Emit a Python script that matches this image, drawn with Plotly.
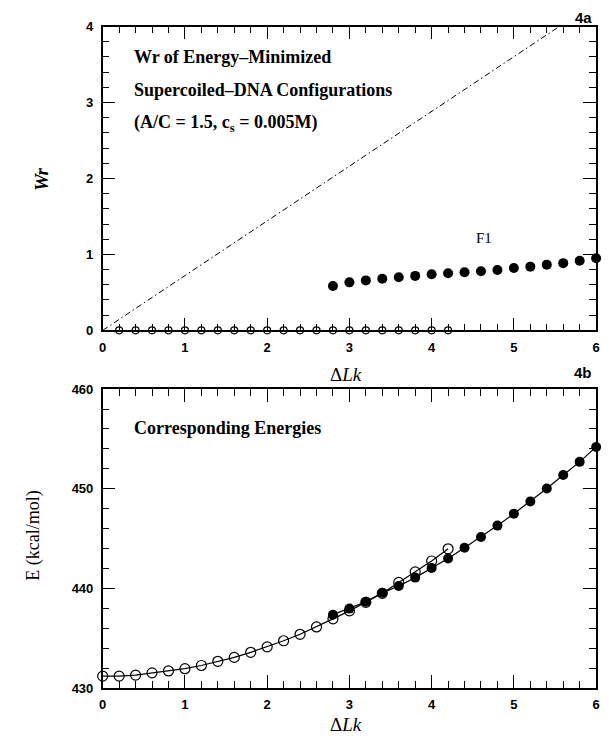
import plotly.graph_objects as go

# ---- data ----
# Wr panel: relaxed (open) configurations sit at Wr = 0
wr_open_lk = [0.2, 0.4, 0.6, 0.8, 1.0, 1.2, 1.4, 1.6, 1.8, 2.0, 2.2, 2.4, 2.6, 2.8,
              3.0, 3.2, 3.4, 3.6, 3.8, 4.0, 4.2]
wr_open = [0.0] * len(wr_open_lk)

# F1 branch (filled)
f1_lk = [2.8, 3.0, 3.2, 3.4, 3.6, 3.8, 4.0, 4.2, 4.4, 4.6, 4.8, 5.0, 5.2, 5.4, 5.6, 5.8, 6.0]
f1_wr = [0.585, 0.632, 0.658, 0.679, 0.700, 0.717, 0.739, 0.752, 0.765, 0.778, 0.795,
         0.820, 0.839, 0.865, 0.885, 0.916, 0.950]

# reference line (dash-dot)
ref_lk = [0.0, 5.55]
ref_wr = [0.0, 4.0]

# Energies
e_open_lk = [0.0, 0.2, 0.4, 0.6, 0.8, 1.0, 1.2, 1.4, 1.6, 1.8, 2.0, 2.2, 2.4, 2.6, 2.8,
             3.0, 3.2, 3.4, 3.6, 3.8, 4.0, 4.2]
e_open = [431.19, 431.19, 431.29, 431.52, 431.71, 431.94, 432.26, 432.68, 433.07, 433.58,
          434.13, 434.74, 435.39, 436.13, 436.94, 437.74, 438.60, 439.50, 440.60, 441.65,
          442.75, 443.97]
e_f1_lk = f1_lk
e_f1 = [437.36, 437.97, 438.65, 439.55, 440.24, 441.08, 442.04, 442.99, 444.07, 445.15,
        446.30, 447.50, 448.72, 450.03, 451.38, 452.70, 454.20]

x_ticks = [0, 1, 2, 3, 4, 5, 6]
wr_ticks = [0, 1, 2, 3, 4]
e_ticks = [430, 440, 450, 460]

W, H = 609, 744
def px_x(p):
    return p / W
def px_y(p):
    return 1 - p / H

SERIF = "Liberation Serif"
SANS = "Liberation Sans"

fig = go.Figure()

fig.add_trace(go.Scatter(x=ref_lk, y=ref_wr, mode="lines",
                         line=dict(color="black", width=1, dash="6px,3px,1.5px,3px"),
                         xaxis="x", yaxis="y", showlegend=False))
fig.add_trace(go.Scatter(x=wr_open_lk, y=wr_open, mode="markers", cliponaxis=False,
                         marker=dict(symbol="circle-open", size=7, color="black",
                                     line=dict(width=1.2)),
                         xaxis="x", yaxis="y", showlegend=False))
fig.add_trace(go.Scatter(x=f1_lk, y=f1_wr, mode="markers", cliponaxis=False,
                         marker=dict(symbol="circle", size=10, color="black"),
                         xaxis="x", yaxis="y", showlegend=False))

fig.add_trace(go.Scatter(x=e_open_lk, y=e_open, mode="lines+markers", cliponaxis=False,
                         line=dict(color="black", width=1.2),
                         marker=dict(symbol="circle-open", size=10, color="black",
                                     line=dict(width=1.2)),
                         xaxis="x2", yaxis="y2", showlegend=False))
fig.add_trace(go.Scatter(x=e_f1_lk, y=e_f1, mode="lines+markers", cliponaxis=False,
                         line=dict(color="black", width=1.2),
                         marker=dict(symbol="circle", size=10, color="black"),
                         xaxis="x2", yaxis="y2", showlegend=False))

tickfont = dict(family=SANS, size=13, color="black", weight="bold")

def xax(anchor):
    return dict(domain=[px_x(100), px_x(600)], anchor=anchor, range=[0, 6],
                tickvals=x_ticks, ticks="inside", ticklen=13, tickwidth=1.2,
                minor=dict(dtick=0.2, ticks="inside", ticklen=7, tickwidth=1.2,
                           tickcolor="black", showgrid=False),
                mirror="allticks", showline=True, linecolor="black", linewidth=1.5,
                showgrid=False, zeroline=False, tickfont=tickfont, tickcolor="black",
                ticklabelstandoff=4)

def yax(anchor, dom, rng, vals, minor_step):
    return dict(domain=dom, anchor=anchor, range=rng, tickvals=vals,
                ticks="inside", ticklen=13, tickwidth=1.2, tickcolor="black",
                minor=dict(dtick=minor_step, ticks="inside", ticklen=7, tickwidth=1.2,
                           tickcolor="black", showgrid=False),
                mirror="allticks", showline=True, linecolor="black", linewidth=1.5,
                showgrid=False, zeroline=False, tickfont=tickfont,
                ticklabelstandoff=5)

fig.update_layout(
    width=W, height=H, margin=dict(l=0, r=0, t=0, b=0),
    paper_bgcolor="white", plot_bgcolor="white", showlegend=False,
    xaxis=xax("y"),
    yaxis=yax("x", [px_y(330), px_y(20)], [0, 4], wr_ticks, 0.2),
    xaxis2=xax("y2"),
    yaxis2=yax("x2", [px_y(695), px_y(390)], [430, 460], e_ticks, 2),
)

ann = []
def text(x, y, s, size, family=SERIF, weight="normal", angle=0, xanchor="left"):
    ann.append(dict(x=px_x(x), y=px_y(y), xref="paper", yref="paper", text=s,
                    showarrow=False, xanchor=xanchor, yanchor="middle", textangle=angle,
                    font=dict(family=family, size=size, color="black", weight=weight)))

# panel headings
text(130, 51, "Wr of Energy–Minimized", 18, weight="bold")
text(130, 85, "Supercoiled–DNA Configurations", 18, weight="bold")
text(130, 119, "(A/C = 1.5, c<sub>s</sub> = 0.005M)", 18, weight="bold")
text(130, 430, "Corresponding Energies", 18, weight="bold")

# series label
text(486, 236, "F1", 15, xanchor="center")

# panel tags
text(598, 11, "4a", 15, family=SANS, weight="bold", xanchor="right")
text(598, 373, "4b", 15, family=SANS, weight="bold", xanchor="right")

# axis titles
text(347, 375, "Δ<i>Lk</i>", 19, xanchor="center")
text(347, 732, "Δ<i>Lk</i>", 19, xanchor="center")
text(38, 176, "<i>Wr</i>", 19, weight="bold", angle=-90, xanchor="center")
text(30, 540, "E (kcal/mol)", 18, angle=-90, xanchor="center")

fig.update_layout(annotations=ann)
fig.write_html("out.html")
